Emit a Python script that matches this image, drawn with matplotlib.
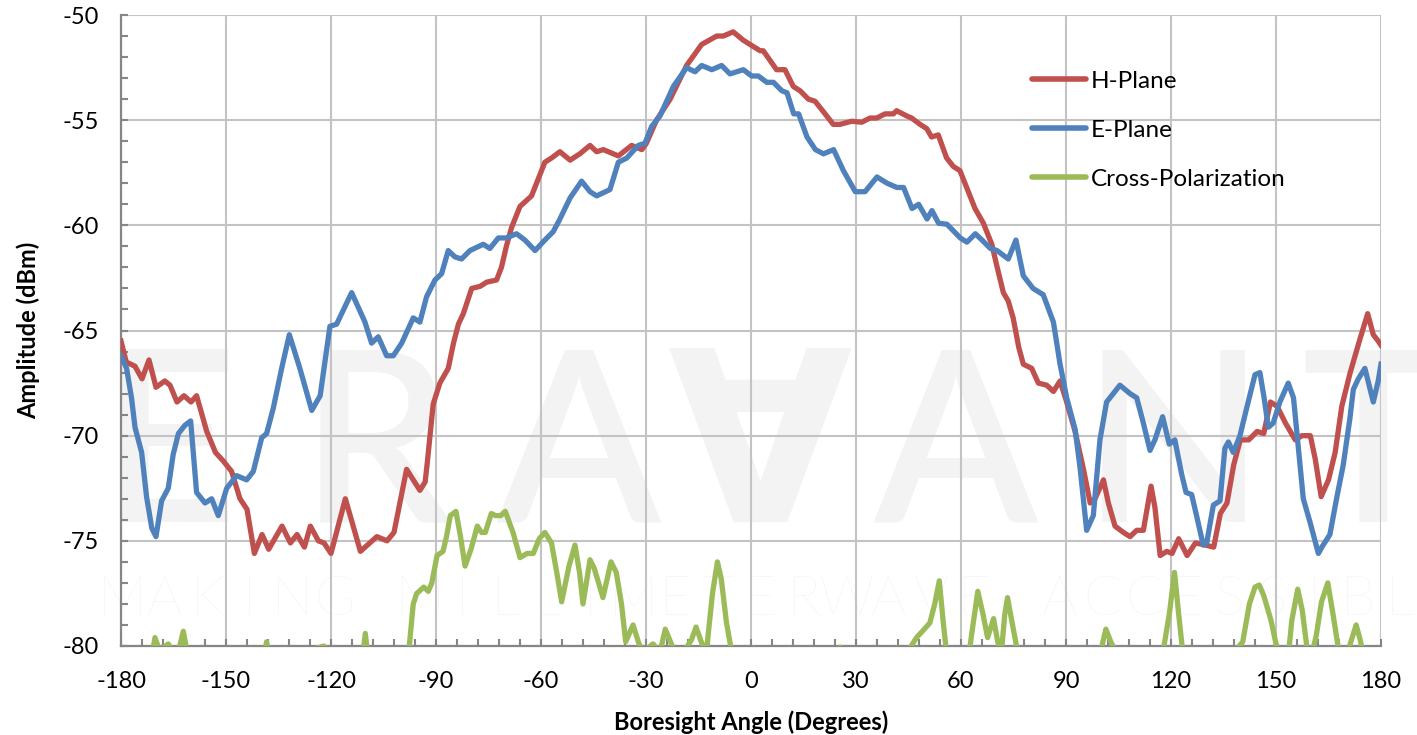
import matplotlib
matplotlib.use('Agg')
import matplotlib.pyplot as plt
from matplotlib.ticker import MultipleLocator

plt.rcParams['axes.unicode_minus'] = False

# Antenna pattern, measured amplitude vs boresight angle
h_angle = [-180, -178.5, -176, -174, -172, -170, -167.5, -166, -164, -162, -160, -158.4, -155.5, -153,
           -150.8, -148.4, -146, -144, -141.9, -139.7, -137.8, -134, -131.6, -129.7, -127.6, -125.9,
           -123.6, -122, -120, -115.9, -111.6, -106.9, -104, -102, -98.4, -94.6, -93.1, -92.5, -90.8,
           -88.9, -86.5, -85, -83.6, -82.2, -79.8, -77.4, -75.5, -72.7, -71.3, -69.9, -68.4, -66, -62.7,
           -60.8, -58.9, -57, -54.6, -51.7, -48.9, -46, -44.1, -42.2, -37.9, -34.1, -31.2, -29.9, -27,
           -23.1, -18.4, -14.1, -9.8, -7.9, -5.1, -2.2, -0.3, 2.6, 3.5, 7.3, 9.7, 12.1, 14, 16.4, 18.3,
           20.7, 23.5, 25.4, 28.8, 31.6, 34, 35.9, 38.3, 40.7, 41.6, 44.5, 45.9, 48.3, 50.2, 51.6, 53.5,
           55.9, 57.8, 59.7, 62.1, 64, 66.4, 68.8, 70.2, 72.1, 73.5, 74.9, 76.5, 77.8, 80.2, 82.1, 84.5,
           86.4, 88.3, 90.2, 92.6, 95, 96.9, 98.3, 100.7, 102.1, 104, 106.4, 108.3, 110.2, 112.1, 114.3,
           115.4, 116.9, 118.8, 120.3, 122.2, 124.6, 127, 129.8, 132.2, 134.1, 136, 137.9, 139.8, 142.2,
           144.6, 146.5, 148.4, 150.3, 152.7, 155.5, 157.4, 159.8, 161.2, 162.9, 165, 166.9, 168.8,
           171.2, 174, 176.2, 177.8, 179.2, 180]
h_amp = [-65.5, -66.5, -66.7, -67.3, -66.4, -67.7, -67.4, -67.6, -68.4, -68.1, -68.4, -68.1, -69.8, -70.8,
         -71.2, -71.7, -73.0, -73.5, -75.6, -74.7, -75.4, -74.3, -75.1, -74.7, -75.3, -74.3,
         -75.0, -75.1, -75.6, -73.0, -75.5, -74.8, -75.0, -74.6, -71.6, -72.6, -72.2, -71.3, -68.5,
         -67.5, -66.8, -65.6, -64.7, -64.2, -63.0, -62.9, -62.7, -62.6, -62.0, -61.0, -60.1, -59.1, -58.6,
         -57.8, -57.0, -56.8, -56.5, -56.9, -56.6, -56.2, -56.5, -56.4, -56.7, -56.2, -56.4, -56.1, -55.0,
         -54.0, -52.4, -51.4, -51.0, -51.0, -50.8, -51.2, -51.4, -51.7, -51.7, -52.6, -52.6, -53.4, -53.6,
         -54.0, -54.1, -54.6, -55.2, -55.2, -55.05, -55.1, -54.9, -54.9, -54.7, -54.7, -54.55, -54.8,
         -54.9, -55.2, -55.4, -55.8, -55.7, -56.8, -57.2, -57.4, -58.4, -59.2, -59.9, -60.9, -61.9, -63.2,
         -63.6, -64.4, -65.8, -66.6, -66.8, -67.5, -67.6, -67.9, -67.4, -68.4, -69.8, -71.6, -73.2, -73.0,
         -72.1, -73.2, -74.3, -74.6, -74.8, -74.5, -74.5, -72.4, -73.4, -75.7, -75.5, -75.6, -74.9, -75.7,
         -75.1, -75.2, -75.3, -73.7, -73.2, -71.4, -70.2, -70.2, -69.8, -69.9, -68.4, -68.6, -69.4, -70.2,
         -70.0, -70.0, -71.1, -72.9, -72.1, -70.8, -68.6, -67.0, -65.4, -64.2, -65.2, -65.5, -65.7]

e_angle = [-180, -178.4, -177, -176, -174.1, -172.7, -171.2, -170, -168.4, -166.5, -165.1, -163.6, -161.7,
           -160.1, -158.4, -156, -154.1, -152.2, -149.8, -147, -144.1, -142.2, -139.8, -138.4, -136.5,
           -134.1, -131.9, -128.9, -125.5, -123.1, -120.3, -118.4, -114.1, -110.3, -108.4, -106.5, -104.1,
           -102.2, -99.8, -96.5, -94.6, -92.7, -90.3, -88.4, -86.5, -84.6, -82.7, -80.3, -76.5, -74.6,
           -72.2, -69.9, -67, -64.6, -61.7, -58.9, -56.5, -54.6, -51.7, -48.4, -46, -44.1, -40.3, -37.9,
           -35.5, -32.2, -30.3, -28.4, -26, -22.2, -18.4, -16, -14.1, -11.2, -8.4, -6, -2.2, 0.2, 2.1, 4.5,
           6.4, 8.8, 10.3, 12.2, 13.6, 16, 18.4, 20.7, 23.6, 26.4, 29.8, 32.6, 36, 38.9, 41.7, 43.6, 46,
           47.9, 50.3, 51.7, 53.6, 56, 59.8, 61.7, 64.1, 66, 68.4, 70.3, 73.5, 75.7, 77.8, 80.6, 83.5, 86.4,
           88.3, 90.2, 92.6, 94, 95.9, 97.8, 99.7, 101.6, 105.4, 108.3, 110.2, 112.1, 114, 115.4, 117.6,
           119.5, 121.1, 123, 124.3, 125.9, 127.3, 129.2, 130.2, 132.1, 134, 135.4, 136.4, 137.8, 139.7,
           141.6, 144, 145.4, 146.6, 147.8, 149.2, 151.1, 153.5, 155, 156.4, 157.8, 159.7, 162.1, 163.1,
           165.4, 167.3, 169.2, 171.1, 172.1, 173.5, 175.4, 176.9, 177.8, 179.2, 180]
e_amp = [-66.2, -66.8, -68.2, -69.6, -70.8, -72.9, -74.4, -74.8, -73.1, -72.5, -70.9, -69.9, -69.5,
         -69.3, -72.7, -73.2, -73.0, -73.8, -72.5, -71.9, -72.1, -71.7, -70.1, -69.9, -68.7,
         -66.8, -65.2, -66.8, -68.8, -68.1, -64.8, -64.7, -63.2, -64.6, -65.6, -65.3, -66.2,
         -66.2, -65.6, -64.4, -64.6, -63.4, -62.6, -62.3, -61.2, -61.5, -61.6, -61.2, -60.9, -61.1,
         -60.6, -60.6, -60.4, -60.7, -61.2, -60.7, -60.3, -59.7, -58.7, -57.9, -58.4, -58.6, -58.3, -57.0,
         -56.8, -56.2, -56.1, -55.3, -54.8, -53.4, -52.5, -52.7, -52.4, -52.6, -52.4, -52.8, -52.6, -52.9,
         -52.9, -53.2, -53.2, -53.6, -53.7, -54.7, -54.7, -55.8, -56.4, -56.6, -56.4, -57.4, -58.4, -58.4,
         -57.7, -58.0, -58.2, -58.2, -59.2, -59.0, -59.7, -59.3, -59.9, -59.95, -60.6, -60.8, -60.4, -60.7,
         -61.1, -61.2, -61.6, -60.7, -62.4, -63.0, -63.3, -64.6, -66.6, -68.2, -69.7, -71.5, -74.5, -73.8,
         -70.2, -68.4, -67.6, -68.0, -68.2, -69.4, -70.7, -70.2, -69.1, -70.4, -70.2, -71.8, -72.7, -72.8,
         -73.8, -75.2, -75.1, -73.3, -73.1, -70.6, -70.3, -70.8, -70.0, -68.7, -67.1, -67.0, -68.2, -69.6,
         -69.4, -68.4, -67.5, -68.2, -70.6, -73.0, -74.1, -75.6, -75.3, -74.7, -73.0, -71.4, -69.2, -67.8,
         -67.3, -66.8, -67.8, -68.4, -67.4, -66.6]

# cross-pol mostly sits below the -80 dBm floor of the plot
x_angle = [-180, -172, -171, -170.3, -169, -168, -166.5, -165, -163.5, -162.2, -161, -159, -141, -138.4,
           -136, -126, -124, -122, -120.5, -118, -112, -110.2, -108.5, -100, -97.8, -96.5, -95.5, -93.5,
           -92.2, -91.2, -89.7, -88, -87, -85.9, -84.3, -83, -81.7, -80, -78.2, -77, -75.9, -74.2, -73,
           -71.5, -70.2, -68, -66, -64, -62.2, -60.5, -58.9, -57, -55.5, -54.1, -52, -50.3, -49, -48, -46,
           -44.8, -42.3, -40, -38.5, -37, -35.8, -33.7, -32, -30.5, -29.5, -28, -26, -24.5, -23, -21.5,
           -18.9, -17, -15.7, -14, -12.7, -11, -9.6, -8.5, -7, -5.5, -3, -0.5, 0.7, 2, 4, 23, 25.4, 27, 40,
           41.6, 43, 45, 47.3, 49.5, 51.1, 52.5, 53.8, 55, 56, 57, 61, 63, 64.8, 66.3, 67.6, 69.3, 70.5,
           71.5, 72.5, 73.3, 74.5, 76.2, 77, 85, 87.1, 89, 99, 100, 101.4, 102.8, 104.3, 106, 116, 118.1,
           119.5, 121, 122.2, 123.3, 125, 137, 139, 140.5, 142.4, 144, 145.2, 146.5, 148.6, 150, 151.4,
           152.5, 153.5, 154.5, 156.2, 157.5, 159, 160, 161.5, 163, 164.8, 166.3, 168, 169.5, 171, 172.9,
           174.2, 175, 176.5, 180]
x_amp = [-82, -82, -80.3, -79.6, -80.2, -80.1, -79.9, -80.3, -80.2, -79.3, -80.4, -82, -82, -79.8,
         -82, -82, -80.1, -80.0, -80.3, -82, -82, -79.4, -82, -82, -80.3, -78.0, -77.5, -77.2,
         -77.4, -77.0, -75.7, -75.5, -74.8, -73.8, -73.6, -74.8, -76.2, -75.4, -74.3, -74.6, -74.6, -73.7,
         -73.8, -73.8, -73.6, -74.6, -75.8, -75.6, -75.6, -74.9, -74.6, -75.1, -76.5, -77.9, -76.2, -75.2,
         -76.5, -78.0, -75.9, -76.3, -77.7, -76.0, -76.5, -78.0, -79.8, -79.0, -79.9, -80.3, -80.1, -79.9,
         -80.3, -79.2, -79.8, -80.4, -80.2, -79.7, -79.1, -79.9, -80.2, -77.5, -76.0, -76.8, -78.9, -80.3,
         -82, -80.6, -80.1, -80.6, -82, -82, -80.05, -82, -82, -80.1, -80.5, -80.2, -79.6, -79.2, -78.9,
         -78.0, -76.9, -79.0, -80.5, -82, -82, -79.5, -77.4, -78.5, -79.6, -78.7, -79.8, -80.4, -78.5,
         -77.7, -78.8, -80.3, -82, -82, -80.1, -82, -82, -80.2, -79.2, -79.8, -80.3, -82, -82, -79.9,
         -78.5, -76.5, -78.5, -80.2, -82, -82, -80.1, -79.8, -78.0, -77.2, -77.1, -77.6, -78.8, -79.9,
         -80.4, -82, -80.5, -78.8, -77.3, -78.3, -80.3, -80.6, -79.5, -77.9, -77.0, -78.5, -80.3, -80.8,
         -80.0, -79.0, -79.8, -80.6, -82, -82]

series_names = ['H-Plane', 'E-Plane', 'Cross-Polarization']
series_colors = ['#C0504D', '#4F81BD', '#9BBB59']

W, H = 1417, 735
fig = plt.figure(figsize=(W / 100, H / 100), dpi=100)
ax = fig.add_axes([121 / W, 1 - 646 / H, 1260 / W, 631 / H])
ax.set_facecolor('none')

# faint company watermark behind the plot (runs off the right edge)
mark_color = '#f3f3f3'
for ch, xc in zip('ERA\u2200ANT', [168, 375, 578, 760, 955, 1173, 1373]):
    fig.text(xc / W, 1 - 522 / H, ch, ha='center', va='baseline', fontsize=172,
             family=['Lato', 'DejaVu Sans'], fontweight='semibold', color=mark_color, zorder=-2)
tagline = 'MAKING MILLIMETERWAVE ACCESSIBLE'
for i, ch in enumerate(tagline):
    fig.text((122 + i * 42.6) / W, 1 - 615 / H, ch, ha='center', va='baseline', fontsize=40,
             family='Lato', fontweight='light', color=mark_color, zorder=-2)

ax.plot(h_angle, h_amp, color=series_colors[0], lw=3.8, label=series_names[0], solid_joinstyle='round', zorder=4)
ax.plot(e_angle, e_amp, color=series_colors[1], lw=3.8, label=series_names[1], solid_joinstyle='round', zorder=4)
ax.plot(x_angle, x_amp, color=series_colors[2], lw=3.8, label=series_names[2], solid_joinstyle='round', zorder=4)

ax.set_xlim(-180, 180)
ax.set_ylim(-80, -50)
ax.xaxis.set_major_locator(MultipleLocator(30))
ax.xaxis.set_minor_locator(MultipleLocator(6))
ax.yaxis.set_major_locator(MultipleLocator(5))
ax.yaxis.set_minor_locator(MultipleLocator(1))
ax.grid(True, which='major', color='#c3c3c3', lw=1.5)
ax.set_axisbelow(True)

for side in ['top', 'right']:
    ax.spines[side].set_visible(False)
for side in ['left', 'bottom']:
    ax.spines[side].set_color('#868686')
    ax.spines[side].set_linewidth(1.6)

ax.tick_params(which='both', direction='in', color='#868686', width=1.5, length=5,
               labelsize=17, labelcolor='black', left=True, bottom=True)
ax.tick_params(axis='y', which='major', pad=16)
ax.tick_params(axis='x', which='major', pad=18)
for lab in ax.get_xticklabels() + ax.get_yticklabels():
    lab.set_family('Lato')

ax.set_xlabel('Boresight Angle (Degrees)', fontsize=17, fontweight='bold', family='Lato', labelpad=13)
ax.set_ylabel('Amplitude (dBm)', fontsize=17, fontweight='bold', family='Lato', labelpad=16)

leg = ax.legend(loc='upper left', bbox_to_anchor=(0.706, 0.946), frameon=False,
                prop={'family': 'Lato', 'size': 17.5}, handlelength=2.2, handletextpad=0.2,
                labelspacing=1.15)
for line in leg.get_lines():
    line.set_linewidth(4)
    line.set_solid_capstyle('round')

plt.savefig('out.png', dpi=100)
